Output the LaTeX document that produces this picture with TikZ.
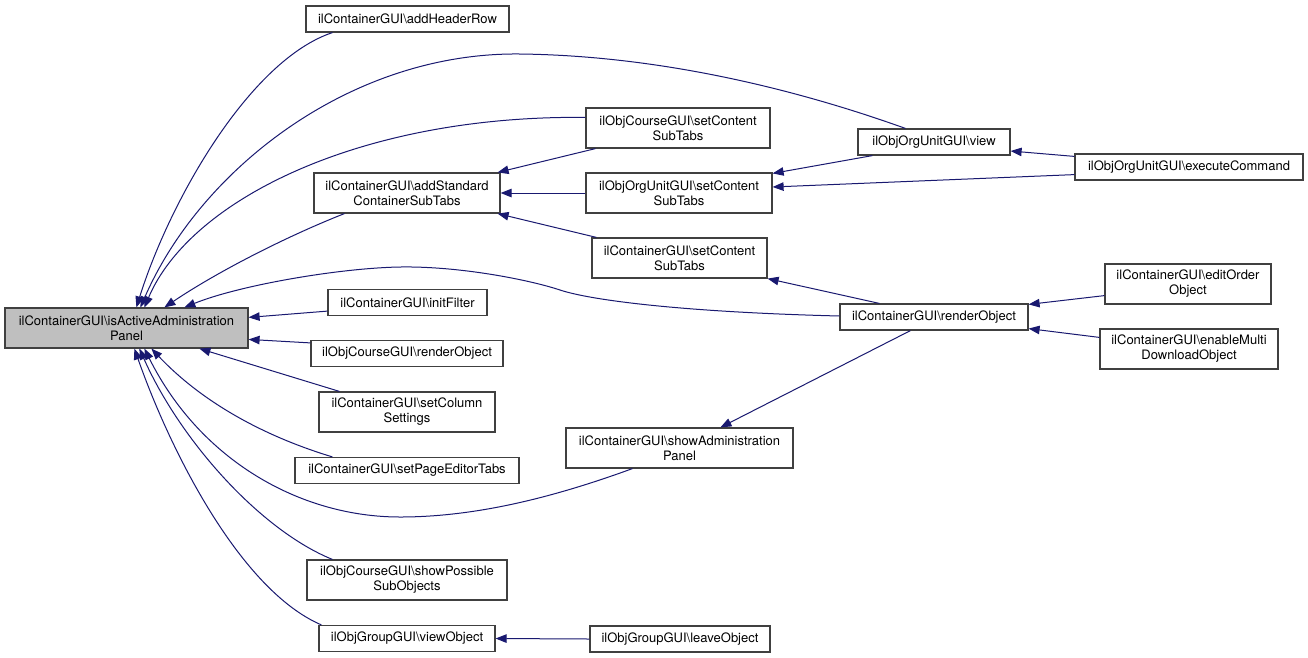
\documentclass[tikz,border=0pt]{standalone}
\usepackage{fontspec}
\setmainfont{TeX Gyre Heros}
\usetikzlibrary{arrows.meta,calc}
\definecolor{edgeblue}{RGB}{25,25,112}
\definecolor{boxgray}{RGB}{64,64,64}
\definecolor{mainfill}{RGB}{191,191,191}
\newcommand\BS{\textbackslash}
\tikzset{
  x=1pt,y=-1pt,
  box/.style={draw=boxgray,fill=white,line width=1.2pt,inner sep=0pt,align=center,
    font=\fontsize{13}{15}\selectfont},
  edge/.style={draw=edgeblue,line width=1pt,-{Triangle[length=11pt,width=8.5pt]}},
}
\begin{document}
\begin{tikzpicture}
\useasboundingbox[fill=white] (0,0) rectangle (1308,657);
% nodes
\node[box,fill=mainfill,minimum width=243pt,minimum height=40pt] (main) at (126.5,328) {ilContainerGUI\BS isActiveAdministration\\Panel};
\node[box,minimum width=203pt,minimum height=26pt] (ahr) at (407.5,19) {ilContainerGUI\BS addHeaderRow};
\node[box,minimum width=186pt,minimum height=40pt] (astd) at (407,193) {ilContainerGUI\BS addStandard\\ContainerSubTabs};
\node[box,minimum width=159pt,minimum height=26pt] (init) at (407.5,302.5) {ilContainerGUI\BS initFilter};
\node[box,minimum width=192pt,minimum height=26pt] (corender) at (407,353.5) {ilObjCourseGUI\BS renderObject};
\node[box,minimum width=176pt,minimum height=40pt] (setcol) at (407,412) {ilContainerGUI\BS setColumn\\Settings};
\node[box,minimum width=224pt,minimum height=26pt] (setpage) at (407,470.5) {ilContainerGUI\BS setPageEditorTabs};
\node[box,minimum width=200pt,minimum height=40pt] (showposs) at (407,580) {ilObjCourseGUI\BS showPossible\\SubObjects};
\node[box,minimum width=176pt,minimum height=26pt] (vobj) at (407,638.5) {ilObjGroupGUI\BS viewObject};
\node[box,minimum width=184pt,minimum height=40pt] (csub) at (678,128) {ilObjCourseGUI\BS setContent\\SubTabs};
\node[box,minimum width=186pt,minimum height=40pt] (osub) at (679,193) {ilObjOrgUnitGUI\BS setContent\\SubTabs};
\node[box,minimum width=175pt,minimum height=40pt] (gsub) at (679.5,258) {ilContainerGUI\BS setContent\\SubTabs};
\node[box,minimum width=227pt,minimum height=40pt] (sadmin) at (679.5,448) {ilContainerGUI\BS showAdministration\\Panel};
\node[box,minimum width=180pt,minimum height=26pt] (leave) at (680,639) {ilObjGroupGUI\BS leaveObject};
\node[box,minimum width=152pt,minimum height=26pt] (view) at (934,142) {ilObjOrgUnitGUI\BS view};
\node[box,minimum width=188pt,minimum height=26pt] (crender) at (934,317) {ilContainerGUI\BS renderObject};
\node[box,minimum width=228pt,minimum height=26pt] (exec) at (1189,167) {ilObjOrgUnitGUI\BS executeCommand};
\node[box,minimum width=166pt,minimum height=40pt] (edit) at (1188,284) {ilContainerGUI\BS editOrder\\Object};
\node[box,minimum width=178pt,minimum height=40pt] (enable) at (1189,349) {ilContainerGUI\BS enableMulti\\DownloadObject};
% edges into main (top)
\draw[edge] ($(ahr.south west)+(27,0)$) .. controls (250,60) and (170,200) .. ($(main.north west)+(132,0)$);
\draw[edge] ($(view.north west)+(48,0)$) .. controls (840,105) and (690,56) .. (520,54) .. controls (350,52) and (200,170) .. ($(main.north west)+(136,0)$);
\draw[edge] ($(csub.north west)+(0,10)$) .. controls (360,115) and (190,200) .. ($(main.north west)+(140,0)$);
\draw[edge] ($(astd.south west)+(31,0)$) .. controls (290,235) and (220,270) .. ($(main.north west)+(160,0)$);
\draw[edge] ($(crender.west)+(0,-1)$) .. controls (680,312) and (590,300) .. (560,290) .. controls (530,280) and (460,266) .. (400,267) .. controls (340,268) and (240,285) .. ($(main.north west)+(180,0)$);
% edges into main (right)
\draw[edge] ($(init.south west)+(0,-5)$) -- ($(main.north east)+(0,10)$);
\draw[edge] ($(corender.north west)+(0,3)$) -- ($(main.north east)+(0,32)$);
% edges into main (bottom)
\draw[edge] ($(setcol.north west)+(21,0)$) -- ($(main.south west)+(195,0)$);
\draw[edge] ($(setpage.north west)+(38,0)$) .. controls (260,435) and (200,400) .. ($(main.south west)+(147,0)$);
\draw[edge] ($(sadmin.south west)+(67,0)$) .. controls (560,495) and (480,517) .. (400,517) .. controls (300,517) and (200,460) .. ($(main.south west)+(140,0)$);
\draw[edge] ($(showposs.north west)+(26,0)$) .. controls (260,530) and (180,440) .. ($(main.south west)+(135,0)$);
\draw[edge] ($(vobj.north west)+(3,0)$) .. controls (240,590) and (170,450) .. ($(main.south west)+(130,0)$);
% other edges
\draw[edge] ($(csub.south west)+(10,0)$) -- ($(astd.north east)+(-3,0)$);
\draw[edge] (osub.west) -- (astd.east);
\draw[edge] ($(gsub.north west)+(5,0)$) -- ($(astd.south east)+(-3,0)$);
\draw[edge] ($(view.south west)+(15,0)$) -- ($(osub.north east)+(0,1)$);
\draw[edge] ($(exec.north west)+(0,3)$) -- ($(view.east)+(0,9)$);
\draw[edge] ($(exec.south west)+(0,-6)$) -- ($(osub.east)+(0,-6)$);
\draw[edge] ($(crender.north west)+(40,0)$) -- (gsub.south east);
\draw[edge] ($(edit.south west)+(0,-9)$) -- ($(crender.north east)+(0,1)$);
\draw[edge] ($(enable.north west)+(0,9)$) -- ($(crender.south east)+(0,-2)$);
\draw[edge] ($(crender.south west)+(71,0)$) -- ($(sadmin.north west)+(155,0)$);
\draw[edge] (leave.west) -- (vobj.east);
\end{tikzpicture}
\end{document}
